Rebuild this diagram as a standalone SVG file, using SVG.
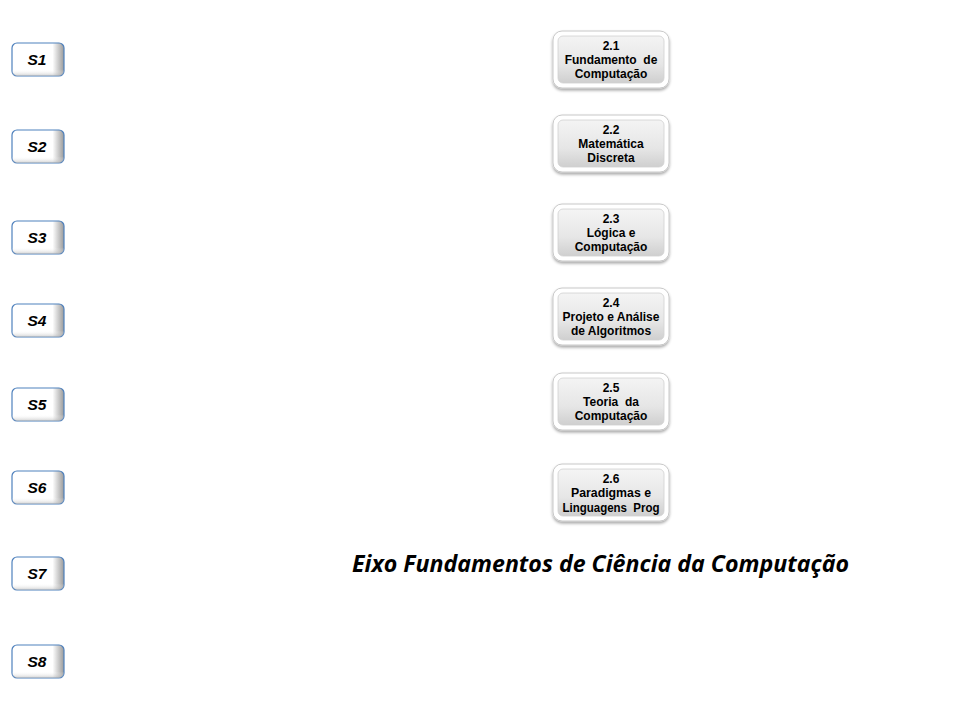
<svg xmlns="http://www.w3.org/2000/svg" width="960" height="720" viewBox="0 0 960 720">
<defs>
<linearGradient id="sg" x1="0" y1="0" x2="1" y2="0">
<stop offset="0" stop-color="#ffffff"/>
<stop offset="0.78" stop-color="#ffffff"/>
<stop offset="1" stop-color="#9a9a9a"/>
</linearGradient>
<linearGradient id="sg2" x1="0" y1="0" x2="0" y2="1">
<stop offset="0.8" stop-color="#ffffff" stop-opacity="0"/>
<stop offset="1" stop-color="#b0b0b0" stop-opacity="0.6"/>
</linearGradient>
<linearGradient id="ig" x1="0" y1="0" x2="0" y2="1">
<stop offset="0" stop-color="#f4f4f4"/>
<stop offset="0.6" stop-color="#e6e6e6"/>
<stop offset="1" stop-color="#cfcfcf"/>
</linearGradient>
<filter id="sh" x="-10%" y="-10%" width="120%" height="130%">
<feGaussianBlur in="SourceAlpha" stdDeviation="1.5"/>
<feOffset dx="0" dy="1.5" result="b"/>
<feFlood flood-color="#000" flood-opacity="0.35"/>
<feComposite in2="b" operator="in"/>
<feMerge><feMergeNode/><feMergeNode in="SourceGraphic"/></feMerge>
</filter>
</defs>
<style>
.s rect.b{fill:url(#sg);stroke:#4f81bd;stroke-width:1.2}
.s rect.o{fill:url(#sg2);stroke:none}
.s text{font-family:"Liberation Sans",Arial,sans-serif;font-weight:bold;font-style:italic;font-size:15.5px;fill:#000;text-anchor:middle}
.n rect.out{fill:#ffffff;stroke:#c8c8c8;stroke-width:1;filter:url(#sh)}
.n rect.in{fill:url(#ig);stroke:#d0d0d0;stroke-width:0.8}
.n text{font-family:"Liberation Sans",Arial,sans-serif;font-weight:bold;font-size:12px;fill:#000;text-anchor:middle;white-space:pre}
.t{font-family:"Open Sans","Noto Sans",sans-serif;font-weight:bold;font-style:italic;font-size:23px;fill:#000}
</style>
<rect width="960" height="720" fill="#ffffff"/>
<g id="S1" class="s"><rect class="b" x="12" y="43" width="52" height="33" rx="5"/><rect class="o" x="12" y="43" width="52" height="33" rx="5"/><text x="37" y="65">S1</text></g>
<g id="S2" class="s"><rect class="b" x="12" y="130" width="52" height="33" rx="5"/><rect class="o" x="12" y="130" width="52" height="33" rx="5"/><text x="37" y="152">S2</text></g>
<g id="S3" class="s"><rect class="b" x="12" y="221" width="52" height="33" rx="5"/><rect class="o" x="12" y="221" width="52" height="33" rx="5"/><text x="37" y="243">S3</text></g>
<g id="S4" class="s"><rect class="b" x="12" y="304" width="52" height="33" rx="5"/><rect class="o" x="12" y="304" width="52" height="33" rx="5"/><text x="37" y="326">S4</text></g>
<g id="S5" class="s"><rect class="b" x="12" y="388" width="52" height="33" rx="5"/><rect class="o" x="12" y="388" width="52" height="33" rx="5"/><text x="37" y="410">S5</text></g>
<g id="S6" class="s"><rect class="b" x="12" y="471" width="52" height="33" rx="5"/><rect class="o" x="12" y="471" width="52" height="33" rx="5"/><text x="37" y="493">S6</text></g>
<g id="S7" class="s"><rect class="b" x="12" y="557" width="52" height="33" rx="5"/><rect class="o" x="12" y="557" width="52" height="33" rx="5"/><text x="37" y="579">S7</text></g>
<g id="S8" class="s"><rect class="b" x="12" y="645" width="52" height="33" rx="5"/><rect class="o" x="12" y="645" width="52" height="33" rx="5"/><text x="37" y="667">S8</text></g>

<g id="n21" class="n"><rect class="out" x="553" y="31" width="116" height="57" rx="9"/><rect class="in" x="558" y="36" width="106" height="47" rx="5"/>
<text x="611" y="50">2.1</text><text x="611" y="64">Fundamento  de</text><text x="611" y="78">Computação</text></g>
<g id="n22" class="n"><rect class="out" x="553" y="115" width="116" height="57" rx="9"/><rect class="in" x="558" y="120" width="106" height="47" rx="5"/>
<text x="611" y="134">2.2</text><text x="611" y="148">Matemática</text><text x="611" y="162">Discreta</text></g>
<g id="n23" class="n"><rect class="out" x="553" y="204" width="116" height="57" rx="9"/><rect class="in" x="558" y="209" width="106" height="47" rx="5"/>
<text x="611" y="223">2.3</text><text x="611" y="237">Lógica e</text><text x="611" y="251">Computação</text></g>
<g id="n24" class="n"><rect class="out" x="553" y="288" width="116" height="57" rx="9"/><rect class="in" x="558" y="293" width="106" height="47" rx="5"/>
<text x="611" y="307">2.4</text><text x="611" y="321">Projeto e Análise</text><text x="611" y="335">de Algoritmos</text></g>
<g id="n25" class="n"><rect class="out" x="553" y="373" width="116" height="57" rx="9"/><rect class="in" x="558" y="378" width="106" height="47" rx="5"/>
<text x="611" y="392">2.5</text><text x="611" y="406">Teoria  da</text><text x="611" y="420">Computação</text></g>
<g id="n26" class="n"><rect class="out" x="553" y="464" width="116" height="57" rx="9"/><rect class="in" x="558" y="469" width="106" height="47" rx="5"/>
<text x="611" y="483">2.6</text><text x="611" y="497" textLength="80" lengthAdjust="spacingAndGlyphs">Paradigmas e</text><text x="611" y="512" textLength="97" lengthAdjust="spacingAndGlyphs">Linguagens  Prog</text></g>

<g id="connectors"></g>
<text class="t" x="352" y="572" textLength="497" lengthAdjust="spacingAndGlyphs">Eixo Fundamentos de Ciência da Computação</text>
</svg>
